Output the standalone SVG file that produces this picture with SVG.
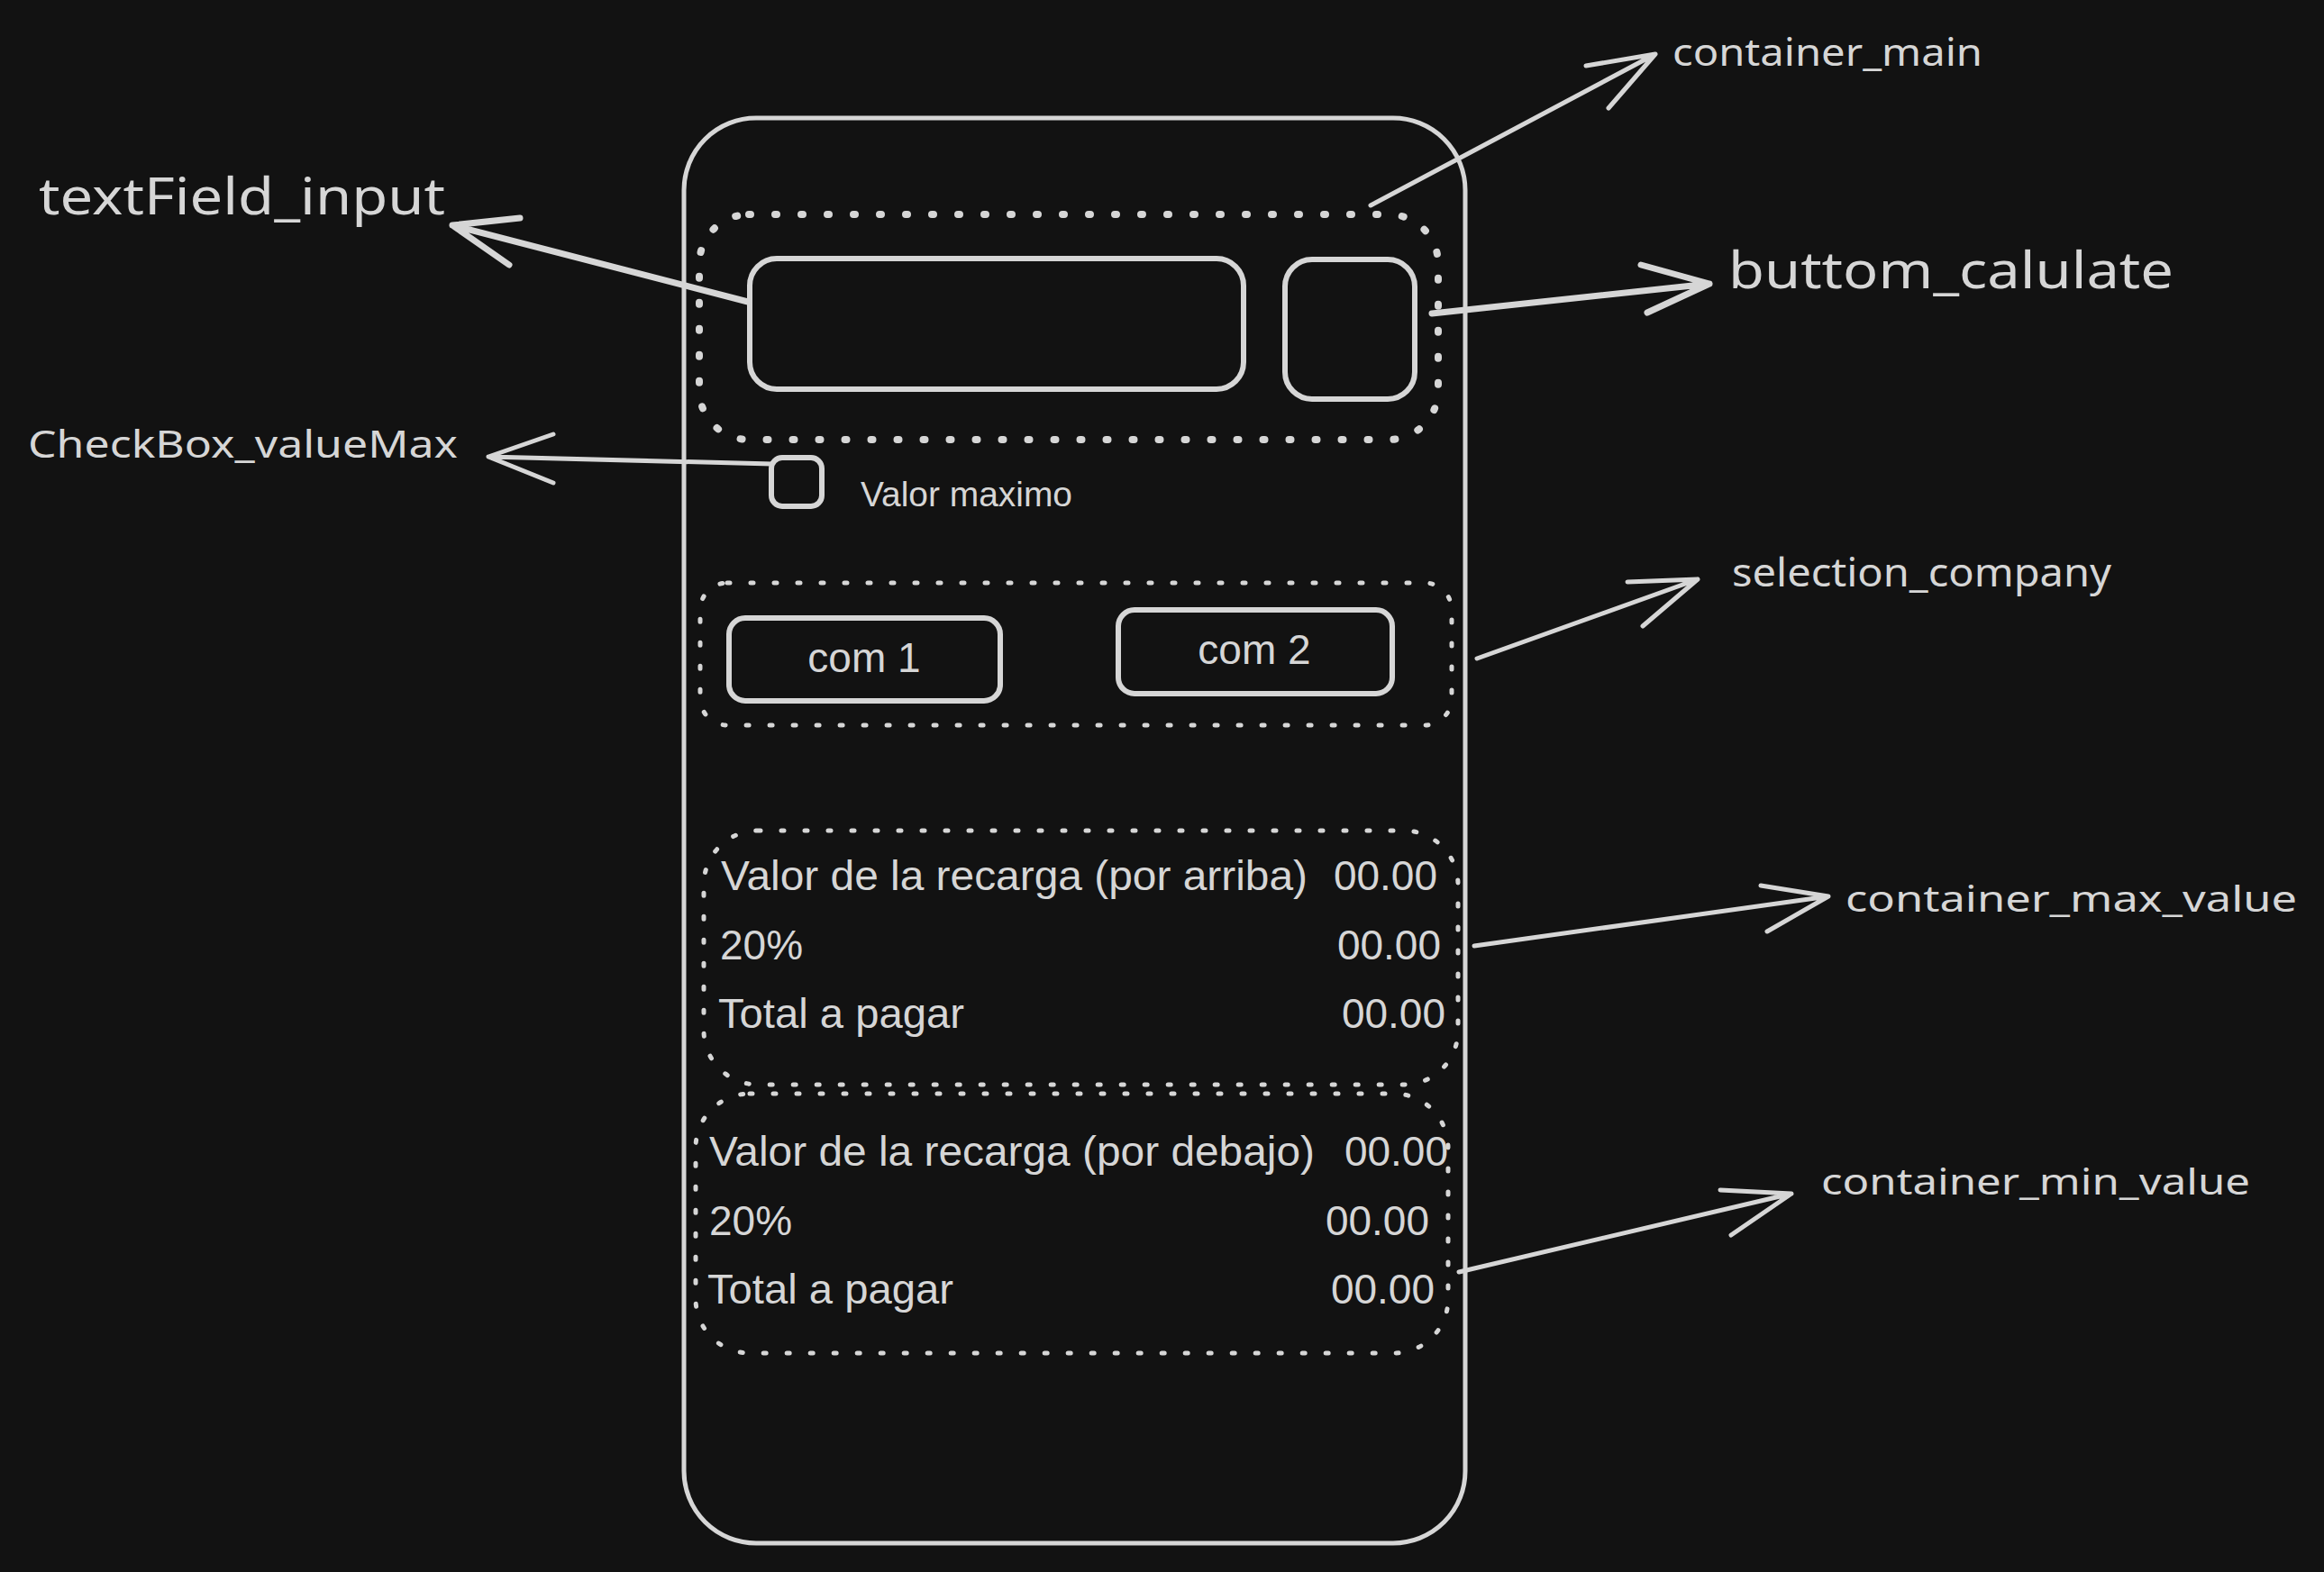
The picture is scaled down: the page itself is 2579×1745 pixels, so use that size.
<svg xmlns="http://www.w3.org/2000/svg" width="2579" height="1745" viewBox="0 0 2579 1745">
<defs>
<style>
.bg{fill:#121212}
.box{fill:none;stroke:#d6d6d6;stroke-width:6;stroke-linejoin:round}
.main{fill:none;stroke:#d6d6d6;stroke-width:5}
.dot1{fill:none;stroke:#d6d6d6;stroke-width:8;stroke-linecap:round;stroke-dasharray:2 27}
.dot2{fill:none;stroke:#d6d6d6;stroke-width:5;stroke-linecap:round;stroke-dasharray:3 23}
.ui{font-family:"Liberation Sans",Arial,sans-serif;fill:#d6d6d6}
.lbl{font-family:"Noto Sans","DejaVu Sans",sans-serif;fill:#d6d6d6}
.arr{fill:none;stroke:#d6d6d6;stroke-width:5;stroke-linecap:round;stroke-linejoin:round}
.arrb{fill:none;stroke:#d6d6d6;stroke-width:7;stroke-linecap:round;stroke-linejoin:round}
</style>
</defs>
<rect class="bg" x="0" y="0" width="2579" height="1745"/>

<g id="container_main">
<rect class="main" x="759" y="131" width="867" height="1582" rx="80" ry="80"/>
</g>

<g id="container_input">
<rect class="dot1" x="776" y="238" width="820" height="250" rx="55" ry="55"/>
</g>

<g id="textField_input">
<rect class="box" x="832" y="287" width="548" height="145" rx="30" ry="30"/>
</g>

<g id="buttom_calulate">
<rect class="box" x="1426" y="288" width="144" height="155" rx="30" ry="30"/>
</g>

<g id="checkBox_valueMax">
<rect class="box" x="856" y="508" width="56" height="54" rx="12" ry="12"/>
<text class="ui" x="955" y="562" font-size="38" textLength="235" lengthAdjust="spacingAndGlyphs">Valor maximo</text>
</g>

<g id="selection_company">
<rect class="dot2" x="777" y="647" width="834" height="158" rx="30" ry="30"/>
</g>

<g id="com1">
<rect class="box" x="809" y="686" width="301" height="92" rx="18" ry="18"/>
<text class="ui" x="959" y="746" font-size="46" text-anchor="middle">com 1</text>
</g>

<g id="com2">
<rect class="box" x="1241" y="677" width="304" height="93" rx="18" ry="18"/>
<text class="ui" x="1392" y="737" font-size="46" text-anchor="middle">com 2</text>
</g>

<g id="container_max_value">
<rect class="dot2" x="781" y="922" width="837" height="282" rx="60" ry="60"/>
<text class="ui" x="800" y="988" font-size="46" textLength="651" lengthAdjust="spacingAndGlyphs">Valor de la recarga (por arriba)</text>
<text class="ui" x="1595" y="988" font-size="46" text-anchor="end">00.00</text>
<text class="ui" x="799" y="1065" font-size="46">20%</text>
<text class="ui" x="1599" y="1065" font-size="46" text-anchor="end">00.00</text>
<text class="ui" x="797" y="1141" font-size="46" textLength="273" lengthAdjust="spacingAndGlyphs">Total a pagar</text>
<text class="ui" x="1604" y="1141" font-size="46" text-anchor="end">00.00</text>
</g>

<g id="container_min_value">
<rect class="dot2" x="772" y="1214" width="835" height="288" rx="60" ry="60"/>
<text class="ui" x="787" y="1294" font-size="46" textLength="672" lengthAdjust="spacingAndGlyphs">Valor de la recarga (por debajo)</text>
<text class="ui" x="1607" y="1294" font-size="46" text-anchor="end">00.00</text>
<text class="ui" x="787" y="1371" font-size="46">20%</text>
<text class="ui" x="1586" y="1371" font-size="46" text-anchor="end">00.00</text>
<text class="ui" x="785" y="1447" font-size="46" textLength="273" lengthAdjust="spacingAndGlyphs">Total a pagar</text>
<text class="ui" x="1592" y="1447" font-size="46" text-anchor="end">00.00</text>
</g>

<g id="labels">
<text class="lbl" x="1856" y="73" font-size="41" textLength="344" lengthAdjust="spacingAndGlyphs">container_main</text>
<text class="lbl" x="1918" y="320" font-size="56" textLength="494" lengthAdjust="spacingAndGlyphs">buttom_calulate</text>
<text class="lbl" x="43" y="238" font-size="56" textLength="451" lengthAdjust="spacingAndGlyphs">textField_input</text>
<text class="lbl" x="31" y="508" font-size="41" textLength="477" lengthAdjust="spacingAndGlyphs">CheckBox_valueMax</text>
<text class="lbl" x="1922" y="651" font-size="43" textLength="421" lengthAdjust="spacingAndGlyphs">selection_company</text>
<text class="lbl" x="2048" y="1012" font-size="40" textLength="501" lengthAdjust="spacingAndGlyphs">container_max_value</text>
<text class="lbl" x="2021" y="1326" font-size="40" textLength="476" lengthAdjust="spacingAndGlyphs">container_min_value</text>
</g>

<g id="connectors">
<path class="arr" d="M1521 228 L1837 60 M1760 73 L1837 60 L1785 120"/>
<path class="arrb" d="M1589 348 L1897 315 M1821 294 L1897 315 L1828 347"/>
<path class="arrb" d="M830 335 L502 250 M577 242 L502 250 L565 294"/>
<path class="arr" d="M857 515 L542 507 M614 482 L542 507 L614 536"/>
<path class="arr" d="M1639 731 L1884 643 M1806 646 L1884 643 L1823 695"/>
<path class="arr" d="M1636 1050 L2029 995 M1954 983 L2029 995 L1961 1034"/>
<path class="arr" d="M1619 1412 L1988 1325 M1909 1321 L1988 1325 L1921 1371"/>
</g>
</svg>
